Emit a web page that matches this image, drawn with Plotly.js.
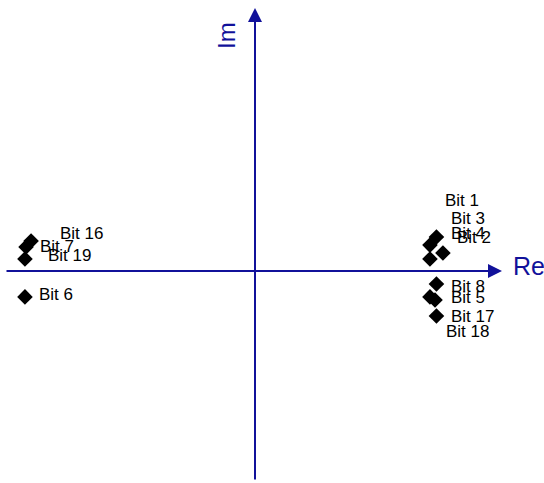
<!DOCTYPE html>
<html>
<head>
<meta charset="utf-8">
<script src="https://cdn.plot.ly/plotly-3.0.1.min.js"></script>
<style>html,body{margin:0;padding:0;background:#fff;}#chart{width:544px;height:483px;}</style>
</head>
<body>
<div id="chart"></div>
<script>
// Data: bit constellation points (real, imaginary)
var bitLabels = ["Bit 16", "Bit 7", "Bit 19", "Bit 6", "Bit 1", "Bit 3", "Bit 2", "Bit 4", "Bit 8", "Bit 5", "Bit 18", "Bit 17"];
var reValues  = [-1.244, -1.272, -1.278, -1.278, 1.008, 0.972, 1.044, 0.972, 1.008, 0.972, 1.000, 1.008];
var imValues  = [0.167, 0.133, 0.067, -0.144, 0.189, 0.144, 0.100, 0.067, -0.072, -0.144, -0.161, -0.250];
// label offsets in pixels (dx right, dy up)
var labelDx = [27, 12, 21, 12, 7, 19, 12, 19, 13, 19, 9, 13];
var labelDy = [7, 1, 3, 2, 36, 27, 16, 25, -3, -1, -32, 0];

var axisColor = "#11119a";
var xr = [-255/180, 289/180];
var yr = [-212/180, 271/180];
var fam = "Liberation Sans, Arial, sans-serif";

var trace = {
  x: reValues, y: imValues, type: "scatter", mode: "markers",
  marker: {symbol: "diamond", size: 12, color: "#000"},
  hoverinfo: "text", text: bitLabels
};

var annotations = [];
// axes arrows
annotations.push({x: 247/180, y: 0, ax: -250/180, ay: 0, xref: "x", yref: "y", axref: "x", ayref: "y",
  showarrow: true, arrowhead: 2, arrowsize: 1.4, arrowwidth: 2, arrowcolor: axisColor, text: ""});
annotations.push({x: 0, y: 263/180, ax: 0, ay: -210/180, xref: "x", yref: "y", axref: "x", ayref: "y",
  showarrow: true, arrowhead: 2, arrowsize: 1.4, arrowwidth: 2, arrowcolor: axisColor, text: ""});
annotations.push({x: 256/180, y: 0, xref: "x", yref: "y", text: "Re", showarrow: false, xanchor: "left", yanchor: "middle", yshift: 5,
  font: {family: fam, size: 25, color: axisColor}});
annotations.push({x: -29/180, y: 235/180, xref: "x", yref: "y", text: "Im", showarrow: false, textangle: -90, xanchor: "center", yanchor: "middle",
  font: {family: fam, size: 24, color: axisColor}});

for (var i = 0; i < bitLabels.length; i++) {
  annotations.push({x: reValues[i], y: imValues[i], xref: "x", yref: "y", text: bitLabels[i], showarrow: false,
    xanchor: "left", yanchor: "middle", xshift: labelDx[i], yshift: labelDy[i],
    font: {family: fam, size: 17, color: "#000"}});
}

var layout = {
  width: 544, height: 483,
  margin: {l: 0, r: 0, t: 0, b: 0},
  paper_bgcolor: "#fff", plot_bgcolor: "#fff",
  showlegend: false,
  xaxis: {range: xr, visible: false, fixedrange: true},
  yaxis: {range: yr, visible: false, fixedrange: true},
  annotations: annotations
};

Plotly.newPlot("chart", [trace], layout, {staticPlot: true, displayModeBar: false});
</script>
</body>
</html>
